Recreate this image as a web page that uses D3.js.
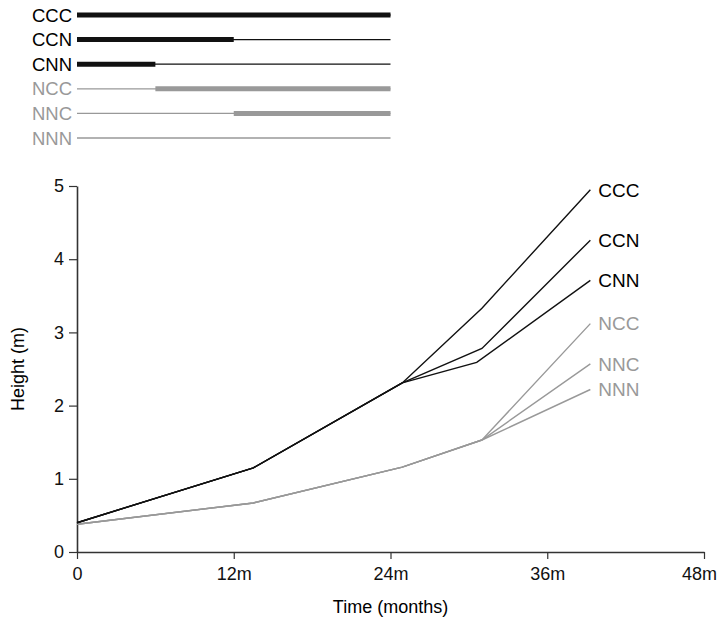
<!DOCTYPE html>
<html>
<head>
<meta charset="utf-8">
<script src="https://cdn.jsdelivr.net/npm/d3@7"></script>
<style>
  body { margin: 0; background: #fff; }
  text { font-family: "Liberation Sans", Arial, sans-serif; }
</style>
</head>
<body>
<div id="chart"></div>
<script>
// data
var series = ["CCC", "CCN", "CNN", "NCC", "NNC", "NNN"];
var months = [0, 13.5, 24.9, 31, 39.3];
var monthsCNN = [0, 13.5, 24.9, 30.6, 39.3];
var CCC = [0.40, 1.15, 2.31, 3.33, 4.95];
var CCN = [0.40, 1.15, 2.31, 2.78, 4.26];
var CNN = [0.40, 1.15, 2.31, 2.59, 3.71];
var NCC = [0.38, 0.67, 1.16, 1.53, 3.12];
var NNC = [0.38, 0.67, 1.16, 1.53, 2.57];
var NNN = [0.38, 0.67, 1.16, 1.53, 2.22];
var xTicks = [0, 12, 24, 36, 48];
var xTickLabels = ["0", "12m", "24m", "36m", "48m"];
var yTicks = [0, 1, 2, 3, 4, 5];
// legend schematic: thick stretch of each bar (in months on a 0-24 span)
var legendThick = {
  CCC: [0, 24], CCN: [0, 12], CNN: [0, 6],
  NCC: [6, 24], NNC: [12, 24], NNN: null
};

var values = { CCC: CCC, CCN: CCN, CNN: CNN, NCC: NCC, NNC: NNC, NNN: NNN };
var black = "#111", grey = "#999";
function colour(name) { return name[0] == "C" ? black : grey; }

var width = 718, height = 623;
var margin = {left: 77, right: 14, top: 186, bottom: 71};

var svg = d3.select("#chart").append("svg")
  .attr("width", width)
  .attr("height", height);

var x = d3.scaleLinear()
  .domain([0, 48])
  .range([margin.left, width - margin.right]);
var y = d3.scaleLinear()
  .domain([0, 5])
  .range([height - margin.bottom, margin.top]);

// legend at the top
var legY = d3.scalePoint()
  .domain(series)
  .range([15, 138]);

var leg = svg.append("g");
series.forEach(function(s) {
  var yy = legY(s);
  leg.append("text")
    .attr("x", 72)
    .attr("y", yy)
    .attr("dy", "0.36em")
    .attr("text-anchor", "end")
    .style("font-size", "18.5px")
    .style("fill", s[0] == "C" ? "#000" : grey)
    .text(s);
  leg.append("line")
    .attr("x1", x(0)).attr("x2", x(24))
    .attr("y1", yy).attr("y2", yy)
    .attr("stroke", colour(s))
    .attr("stroke-width", 1.3);
  if (legendThick[s]) {
    leg.append("line")
      .attr("x1", x(legendThick[s][0])).attr("x2", x(legendThick[s][1]))
      .attr("y1", yy).attr("y2", yy)
      .attr("stroke", colour(s))
      .attr("stroke-width", 5);
  }
});

// axes
var xAxis = svg.append("g")
  .attr("transform", "translate(0," + y(0) + ")")
  .call(d3.axisBottom(x).tickValues(xTicks)
    .tickFormat(function(d, i) { return xTickLabels[i]; })
    .tickSize(7).tickSizeOuter(0).tickPadding(8));
var yAxis = svg.append("g")
  .attr("transform", "translate(" + x(0) + ",0)")
  .call(d3.axisLeft(y).tickValues(yTicks).tickFormat(d3.format("d"))
    .tickSize(8).tickSizeOuter(0).tickPadding(5));
[xAxis, yAxis].forEach(function(a) {
  a.select(".domain").attr("stroke", "#333").attr("stroke-width", 1.6);
  a.selectAll(".tick line").attr("stroke", "#333").attr("stroke-width", 1.2);
  a.selectAll("text").style("font-size", "18px").style("fill", "#111")
    .style("font-family", "'Liberation Sans', Arial, sans-serif");
});
// last label sits against the right edge
xAxis.selectAll(".tick text").filter(function(d) { return d == 48; })
  .attr("dx", "-5");

svg.append("text")
  .attr("x", x(24))
  .attr("y", 613)
  .attr("text-anchor", "middle")
  .style("font-size", "18px")
  .text("Time (months)");

svg.append("text")
  .attr("transform", "rotate(-90)")
  .attr("x", -y(2.5))
  .attr("y", 24)
  .attr("text-anchor", "middle")
  .style("font-size", "18px")
  .text("Height (m)");

// lines, grey first so black sits on top
var line = d3.line()
  .x(function(d) { return x(d[0]); })
  .y(function(d) { return y(d[1]); });

["NNN", "NNC", "NCC", "CNN", "CCN", "CCC"].forEach(function(s) {
  var ms = s == "CNN" ? monthsCNN : months;
  var pts = values[s].map(function(v, i) { return [ms[i], v]; });
  svg.append("path")
    .datum(pts)
    .attr("d", line)
    .attr("fill", "none")
    .attr("stroke", colour(s))
    .attr("stroke-width", 1.4)
    .attr("stroke-linejoin", "miter");
  var last = pts[pts.length - 1];
  svg.append("text")
    .attr("x", x(last[0]) + 8)
    .attr("y", y(last[1]))
    .attr("dy", "0.36em")
    .style("font-size", "19px")
    .style("fill", s[0] == "C" ? "#000" : grey)
    .text(s);
});
</script>
</body>
</html>
